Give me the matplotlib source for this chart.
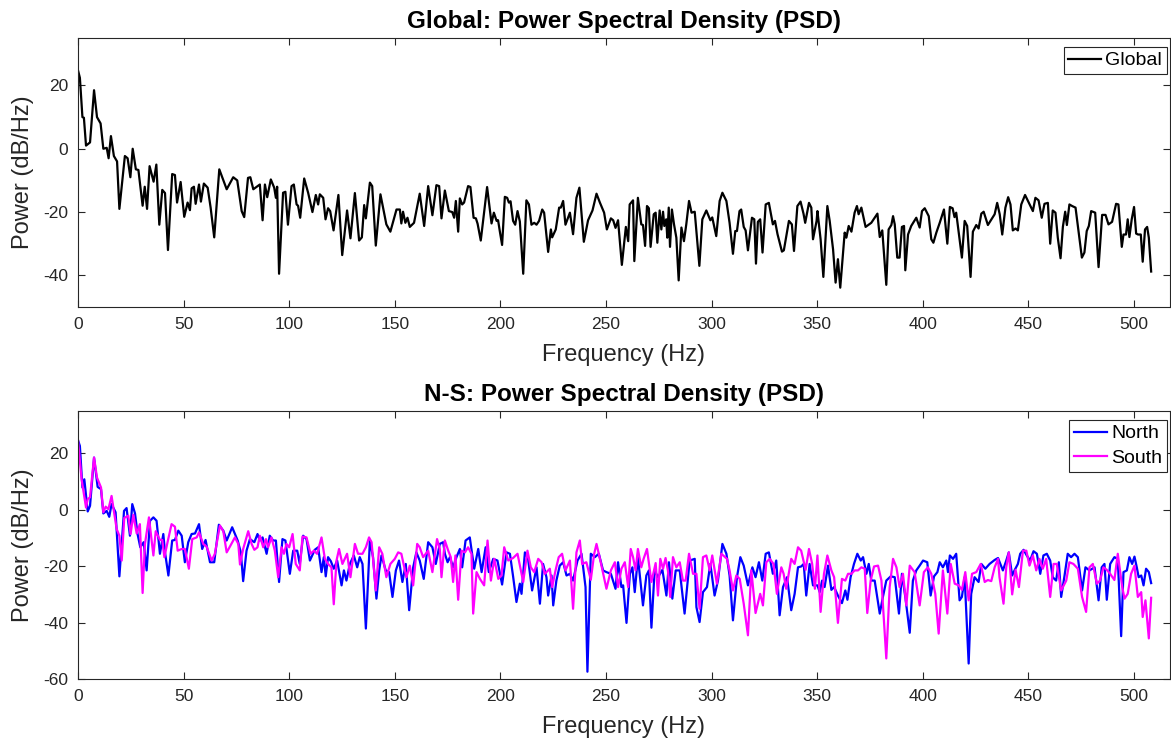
import matplotlib
matplotlib.use("Agg")
import matplotlib.pyplot as plt

plt.rcParams['font.family'] = ['Liberation Sans', 'DejaVu Sans']
plt.rcParams['axes.unicode_minus'] = False

# Global PSD (frequency in Hz, power in dB/Hz)
global_f = [0, 0.9, 2.1, 2.8, 3.8, 5.7, 7.6, 9, 10.7, 12, 13.6, 14.5, 15.6, 17, 18.5, 19.6,
            22.2, 23.5, 24.8, 25.9, 27.4, 28.6, 30.6, 31.6, 32.7, 33.9, 35.8, 37.1, 38.5, 39.9,
            41.2, 42.6, 44.6, 45.9, 46.9, 48.6, 50.3, 51.9, 53, 53.8, 54.9, 55.7, 57.3, 58.2,
            59.6, 61.4, 62.8, 64.5, 66.9, 70.4, 73.5, 75.4, 77.5, 78.7, 80.5, 81.6, 83, 86.1,
            87.4, 88.5, 89.6, 91.3, 92.9, 93.7, 94.3, 95.2, 97.1, 98.2, 99.4, 101.1, 102.2,
            103.5, 104.2, 105.2, 107.1, 109, 111, 112.6, 113.7, 114.5, 116.1, 117.2, 118.4,
            119.4, 121, 123.3, 125.1, 127.4, 129, 131.1, 133.1, 134.4, 135.5, 136.3, 138.2,
            139.3, 141, 143.2, 146, 147.9, 150.8, 152.4, 153.1, 153.9, 155, 156, 157.1, 159.1,
            161.8, 163.9, 165.8, 167.8, 169.7, 171, 172.1, 173.7, 175.6, 177.2, 178.1, 178.9,
            180, 180.8, 181.9, 182.8, 184.7, 185.8, 187.3, 188.4, 189.2, 190.7, 193.7, 195.8,
            196.9, 198.2, 198.9, 199.7, 200.8, 202.1, 203.2, 204, 204.8, 206, 207, 208.1,
            209.2, 210.8, 212.3, 213.5, 214.7, 216, 217.1, 218.3, 219.8, 220.7, 222.6, 223.9,
            224.5, 226.2, 227.8, 228.6, 229.7, 230.8, 232.9, 234.4, 236, 237.4, 239.5, 241.5,
            243.6, 245.5, 247.1, 249.1, 250.4, 252.3, 253.4, 254.5, 255.7, 257.5, 259.4,
            260.5, 261.2, 262.8, 263.4, 265.1, 266.7, 267.5, 268.5, 269.4, 270.3, 271.1,
            272.6, 273.5, 274.3, 275.4, 276.2, 277, 277.6, 278.5, 279, 279.7, 280.3, 281.2,
            282.2, 283.3, 284.4, 285.7, 286.9, 288, 289.3, 290.5, 292, 294.2, 295.6, 297.5,
            299.4, 300.3, 302.2, 303.8, 305.1, 307, 308.5, 310.1, 311.2, 312, 313.2, 314,
            315.2, 316.1, 317.2, 319.1, 320.2, 321, 321.9, 323, 324.1, 325.6, 327.1, 329, 330,
            331.2, 333.3, 334.2, 336.6, 338, 339, 340.6, 342.1, 343.5, 344.3, 346.1, 347.2,
            348, 349.7, 350.1, 351.6, 352.9, 354.8, 355.9, 357.5, 358.7, 359.8, 360.9, 363,
            363.8, 364.9, 366.2, 367.7, 368.8, 369.6, 370.9, 372.9, 375.6, 378.5, 379.6,
            380.8, 382.7, 383.8, 385.1, 385.9, 386.7, 387.9, 389, 390.1, 391.1, 391.7, 393,
            394.5, 396.9, 398.5, 399.6, 400.9, 402.8, 404, 405, 406.4, 408, 410, 411.6, 412.8,
            414.1, 415, 415.8, 417.4, 418.5, 419.8, 421, 422.6, 423.7, 425.3, 426.4, 427.7,
            428.8, 430.8, 434, 435.2, 436.4, 437.6, 439.1, 440.4, 441.5, 442.6, 443.9, 445,
            446.6, 448.4, 450.2, 452.1, 453.3, 454.8, 456.3, 457.6, 459.2, 460.3, 461.5,
            462.8, 463.9, 465.2, 466.3, 467.4, 468.2, 469.4, 470.7, 472.3, 473.4, 475.3,
            476.5, 477.6, 478.6, 479.7, 481.6, 483.2, 484.9, 486.5, 487.9, 489.6, 491.5,
            492.6, 494.2, 495, 496.2, 497, 497.8, 498.9, 500, 501, 501.9, 503.2, 504.1, 505.2,
            506.2, 507, 508.1]
global_db = [24.8, 22.4, 10, 9.8, 1, 2, 18.5, 10, 8, 0, 0.3, -3, 4, -2.3, -4, -19,
             -2.3, -3, -9, 0, -6.5, -6.7, -18, -12, -19, -5.5, -10.4, -5, -24, -13,
             -14, -32, -8, -8.3, -17, -10.5, -21.5, -17, -19.4, -12.5, -12, -17.4, -11.3, -16.7,
             -11, -12.3, -18.6, -28, -6.5, -12.8, -9, -10, -19.7, -21.6, -9.2, -9, -12.8, -11.3,
             -22.6, -11.3, -15.3, -9.7, -12.3, -15.5, -12, -39.5, -13.9, -13.6, -24, -11.8, -11.3,
             -17.6, -18, -21.8, -9.4, -14, -20, -14.6, -17.6, -14.4, -15.5, -22.3, -18.8,
             -19.7, -25.8, -14.6, -33.6, -19.5, -28.3, -14, -29, -28, -17.8, -22, -10.7,
             -11.8, -30.6, -14.4, -23.9, -26.2, -19.2, -19.2, -23.6, -19.9, -23.4, -21.8, -24.7, -23.4,
             -14.2, -24.4, -11.8, -21, -11.5, -11.8, -22, -13.2, -19.7, -20, -21.8, -16.5,
             -26.2, -15.7, -17.6, -17, -11.8, -12.1, -21.8, -22, -23.7, -29, -12.1, -23.6,
             -20.2, -22.8, -22.6, -26, -30.4, -15.2, -15.5, -17, -16.6, -22.8, -24, -19.7,
             -23, -39.5, -16.3, -17.6, -24, -23.4, -24, -22.8, -19.2, -20.2, -32.6, -25.5,
             -28, -25.5, -18.6, -18.6, -16.5, -24, -20.2, -27, -15.5, -12.3, -29.4, -22.6,
             -19.5, -14.2, -17, -20.2, -25.5, -22, -22.6, -25, -22.6, -36.7, -24.7,
             -29.2, -17.6, -16.3, -35.5, -15.5, -23.9, -24.1, -30.7, -18.1, -18.8, -31,
             -20.7, -20.2, -29.7, -19.5, -25.5, -19.9, -24.4, -22.3, -28.1, -18.6, -31, -19.2,
             -23.9, -28.1, -41.6, -24.9, -29.2, -23.9, -16.5, -20.2, -19.9, -37, -22.3, -19.5,
             -22.6, -21.7, -27.6, -16.5, -13.9, -16.5, -23.4, -33.2, -26, -26, -19.7, -19.2,
             -24.7, -25.8, -32.1, -21.8, -22.3, -36.3, -23.1, -22.3, -32.8, -17.6, -17.1, -23.9, -22.8,
             -27, -32.5, -32.1, -22.8, -23.9, -32.3, -18.1, -16.7, -20.5, -23.4, -17.1, -18.6,
             -28.6, -22.8, -19.7, -28.6, -40.5, -18.1, -22.8, -31.8, -42.3, -34.9, -43.9, -26.5,
             -28.1, -24.4, -26.2, -20.2, -18.1, -20.7, -18.6, -24.7, -23.4, -20.5, -27.9,
             -25.8, -43, -25.5, -24.1, -21.3, -23.9, -34.4, -34.4, -24.7, -24.4, -38.4, -27.1,
             -24.4, -21.8, -24.9, -19.7, -18.8, -21.3, -28.6, -29.7, -26.5, -23.4, -19.2, -30, -18.4,
             -18.8, -21.6, -20.2, -28.6, -34.4, -22.8, -24.4, -40.5, -26.2, -24.1, -25.2, -20.5,
             -19.9, -24.1, -20.7, -17.1, -20.7, -27.1, -18.6, -15.3, -17.6, -25.8, -25.2, -25.8,
             -17.6, -14.6, -17.1, -19.7, -15.5, -16.3, -21.8, -17.4, -17.1, -30, -19.5,
             -20.2, -28.1, -34.6, -24.7, -19.9, -24.1, -17.6, -18.1, -18.6, -24.4, -34.4,
             -32.8, -26, -24.4, -19.7, -20.2, -37.4, -20.9, -20.9, -23.9, -23.1, -17.4,
             -17.6, -31, -27.1, -27.1, -22.3, -27.9, -22.3, -18.4, -26.8, -27.1, -27.1, -35.7, -25.5,
             -24.7, -28.1, -38.8]

# N-S PSD: North hemisphere
north_f = [0, 0.9, 2.1, 3, 4.6, 5.7, 7.6, 9.3, 10.9, 12, 13.6, 14.8, 15.9, 17.8, 19.6, 21.8,
           23, 24.6, 25.7, 27, 28.2, 29.5, 31.1, 32.5, 34.1, 35.7, 37.2, 38.8, 40.4, 41.2,
           42.8, 44.6, 45.9, 47.5, 49.1, 50.6, 52.2, 53.8, 55.4, 57.3, 58.8, 60.4, 62.5, 64.5,
           66.7, 68.8, 70.4, 73, 75.6, 77.1, 78.2, 79.8, 81.4, 83.5, 85, 86.1, 87.4, 89.3,
           90.8, 92.4, 93.7, 95.2, 96.8, 98.2, 100.3, 101.9, 103.8, 105, 106.6, 108.2, 109.8,
           112.1, 113.7, 115.3, 116.4, 117.3, 118.4, 119.7, 121.1, 122.7, 124.8, 125.9, 127.1,
           128.7, 130.6, 132.2, 133.4, 134.7, 136.3, 138.2, 139.7, 141.3, 142.6, 143.7, 145.7,
           147.3, 148.9, 150.5, 152, 153.6, 155.2, 156.8, 158.7, 160.2, 161.8, 163.7, 165.8,
           167.8, 169.4, 171.3, 172.9, 173.7, 175, 176.1, 177.6, 179.2, 180.8, 181.9, 183.5,
           185.5, 187.6, 189.5, 191.1, 193, 194.5, 196.6, 198.6, 200.8, 202.9, 204.5, 206,
           207.6, 209.2, 210, 211.6, 213.1, 215, 217.1, 218.7, 220.2, 221.8, 222.6, 224.2,
           225, 226.5, 228.1, 229.7, 231.3, 232.9, 234.4, 236.5, 238.4, 240.3, 241.2, 242.8,
           244.7, 246.6, 248.6, 250.2, 252.3, 254.5, 255.7, 257.3, 258.1, 259.7, 261.3,
           262.5, 263.6, 265.1, 267.5, 269.1, 270.3, 271.5, 273, 274.6, 276.7, 278.6, 279.8,
           281.4, 283, 284.9, 287.2, 289.6, 292, 292.8, 294.3, 295.9, 297.8, 299.4, 301.4,
           303, 305.1, 307, 308.5, 310.1, 312, 313.6, 315.2, 317.2, 319.3, 320.8, 322.4, 324,
           325.6, 327.1, 329, 330.6, 332.2, 333.8, 335.7, 337.7, 339.3, 340.9, 342.4, 343.6,
           344.8, 346.4, 348, 350.1, 351.2, 352.3, 353.5, 355.1, 356.7, 358, 359.8, 361.7,
           363.3, 364.3, 365.8, 367.4, 369, 370.6, 371.7, 373.3, 374.4, 375.6, 377.2, 379.6,
           381.1, 382.7, 384.8, 386.7, 388.7, 390.1, 391.7, 393.8, 395.3, 396.9, 398.5,
           400.1, 402.1, 403.7, 405.3, 406.9, 408, 409.5, 411.1, 411.9, 412.8, 414.3, 415.8,
           417.4, 418.5, 419.8, 421.7, 422.9, 424.5, 426.4, 427.7, 429.6, 431.6, 434, 435.6,
           437.9, 439.5, 440.7, 442.3, 443.4, 445, 446.1, 447.7, 449.2, 450.8, 452.4, 454,
           455.6, 457.1, 458.7, 460.3, 461.5, 463.1, 464.4, 465.5, 467.1, 468.6, 470.2, 471.8,
           473.4, 475.4, 477, 478.9, 481.3, 483.2, 484.7, 486, 487.1, 488.7, 490.7, 492.3,
           493.9, 495, 496.6, 497.8, 499.1, 500.2, 501.3, 502.2, 503.4, 504.5, 505.7, 507,
           508.1]
north_db = [24.7, 22.6, 7.9, 10.8, -0.6, 1.4, 18.5, 8.1, 7.3, -1.3, -0.4, -2.5, 2, -0.9, -23.6, -0.4,
            0.6, -9.2, 2, -1.3, -8.6, -13.3, -11.5, -21.5, -3.9, -2.7, -3.9, -15.6, -8.6, -15.1,
            -23.3, -10.9, -10.7, -7.4, -9.2, -18.6, -11.5, -8.6, -8.4, -5.1, -13.9, -10.7, -18.6, -18.6,
            -5.3, -7.4, -10.9, -6.2, -10.9, -15.1, -25.3, -14.5, -10.4, -11.5, -8.6, -10.9, -9.8, -15.6,
            -9.2, -10.9, -10.9, -25.6, -10.4, -10.9, -22.7, -14.5, -14.5, -19.2, -9.2, -10.4, -18,
            -14.2, -13.3, -22.1, -16.8, -23.6, -16.8, -18.2, -20.9, -18, -26.8, -21.5, -25.1,
            -19.2, -16.2, -20.4, -16.8, -19.2, -42.1, -10.9, -16.8, -31.5, -21.5, -16.2, -21.5,
            -22.1, -30.9, -21.5, -18, -25.6, -19.2, -35.6, -20.4, -15.1, -18, -24.5, -11.5,
            -13.3, -19.2, -12.1, -11.5, -15.6, -18.6, -16.8, -20.4, -16.8, -13.9, -20.4, -10.9,
            -9.8, -20.9, -13.9, -22.1, -13.3, -22.1, -17.4, -18, -26.5, -15.1, -15.6, -23.6,
            -32.7, -26.2, -29.8, -15.1, -17.4, -28.6, -20.4, -33.3, -19.2, -23.9, -30.4, -23.3,
            -33.9, -25.1, -19.8, -18.6, -23.3, -22.7, -25.1, -18, -15.6, -27.4, -57.4, -15.6,
            -16.8, -15.6, -21.5, -22.1, -22.7, -28, -18.6, -27.4, -26.8, -40.1, -22.7,
            -20.4, -29.2, -16.8, -33.9, -23.3, -21.5, -41.8, -21.5, -23.9, -21.3, -30.4, -18.6,
            -31.5, -21.5, -21.5, -36.8, -18, -17.4, -34.5, -39.8, -29.2, -27.4, -19.2, -30.4,
            -25.1, -12.1, -15.6, -23.3, -39.2, -23.9, -16.8, -19.8, -26.8, -20.4, -23.9, -18.6, -25.1,
            -15.6, -15.1, -22.7, -18, -37.4, -27.4, -23.9, -35.6, -29.8, -20.4, -20.1, -19.2,
            -30.4, -19.2, -26.8, -26.8, -29.2, -25.1, -27.4, -19.8, -28.4, -27.4, -30.4, -33.1,
            -28.6, -31.9, -23.9, -19.2, -15.6, -18, -16.8, -22.7, -19.2, -25.1, -25.1, -36.8,
            -30.9, -25.1, -23.6, -23.9, -36.8, -22.7, -30.9, -43.6, -25.1, -21.5, -19.8,
            -18, -18.6, -30.4, -23.6, -22.1, -18.6, -20.4, -18, -22.1, -16.2, -17.4, -15.6,
            -32.1, -30.9, -23.9, -54.5, -29.8, -23.9, -25.6, -19.2, -20.9, -19.2, -17.8, -17.1,
            -21.5, -18, -15.1, -23.3, -21.5, -19.2, -15.6, -14.2, -16.2, -18, -14.7, -15.6,
            -22.7, -16.2, -15.6, -18, -23.9, -25.1, -18.6, -30.9, -23.3, -15.6, -16.8, -15.6,
            -16.8, -28.6, -20.4, -21.5, -20.4, -32.1, -20.4, -19.2, -31.9, -19.2, -16.8, -17.4,
            -44.8, -22.1, -21.5, -16.8, -19.2, -16.6, -20.4, -23.9, -23.3, -26.8, -20.9, -22.1,
            -26]

# N-S PSD: South hemisphere
south_f = [0, 1.7, 3.8, 4.6, 5.7, 7.6, 9, 10.9, 12, 13.1, 14.4, 15.9, 17.2, 18.3, 19.6, 20.7,
           21.9, 23.8, 24.9, 26.2, 27.8, 29.3, 30.6, 31.7, 33.6, 35.7, 36.8, 38.8, 39.9, 40.9,
           42.4, 44.3, 45.9, 47.2, 49.1, 50.6, 52.5, 54.1, 56.2, 57.3, 59.3, 60.9, 63.3, 64.8,
           67.2, 68.8, 70.4, 71.9, 74.3, 75.9, 76.7, 78.2, 80.6, 82.2, 83.5, 85, 86.1, 87.7,
           89, 90, 91.6, 93.2, 94.8, 96.4, 97.5, 98.7, 100, 101.6, 103.1, 105, 106.3, 108.2,
           110.1, 111.7, 113.2, 115.3, 116.9, 118.4, 120, 121.1, 122.4, 123.6, 125.2, 127.4,
           129, 131.1, 132.6, 134.7, 136.3, 137.8, 139, 141, 142.6, 144.1, 146, 147.9, 150,
           151.6, 153.1, 155.5, 157.1, 158.7, 160.6, 161.8, 163.4, 165.8, 167.8, 170, 171.3,
           172.1, 173.7, 175.3, 176.5, 177.6, 178.7, 180, 181.6, 183.2, 184.7, 186.3, 187.1,
           188.7, 190.3, 192.3, 193.9, 195.5, 197.1, 199, 200.5, 201.8, 203.7, 206, 208.1,
           210.8, 212.8, 214.4, 216, 217.9, 219.5, 221, 223.4, 224.5, 226.1, 227.6, 229.2,
           230.8, 232.9, 234.4, 236, 237.6, 238.7, 240.7, 242.8, 244.4, 245.5, 247.5, 250.2,
           252.3, 254.2, 255.7, 257.3, 258.9, 260.5, 261.7, 262.8, 264, 265.1, 266.7, 267.8,
           269.4, 271.5, 273.5, 274.6, 275.7, 277, 278.2, 279.3, 280.4, 281.7, 283.3, 284.9,
           286.4, 287.7, 289.3, 291.2, 292.8, 294.3, 295.9, 297.5, 299.1, 300.3, 302.5, 304.6,
           307.3, 308.5, 310.1, 311.7, 313.3, 315.2, 317.2, 318.8, 320.8, 323, 324.3, 325.9,
           327.5, 329.3, 330.9, 333, 334.1, 335.3, 337.7, 339.3, 340.9, 342.4, 344.5, 346.1,
           347.6, 348.9, 350.1, 351.6, 353.2, 354.8, 356.7, 358, 359.8, 361.7, 363.3, 364.6,
           366.2, 367.7, 369.3, 370.9, 372.5, 373.7, 375.3, 376.9, 378.8, 380.4, 382.7, 384.3,
           385.9, 387.5, 389, 390.6, 392.2, 393.8, 396.1, 398.5, 400.5, 402.4, 404, 405.9,
           407.5, 409.5, 411.6, 413.2, 415.1, 417, 418.5, 420.1, 421.7, 423.3, 425.3, 427.4,
           429.3, 430.8, 432.4, 434, 435.6, 436.3, 438.2, 439.5, 440.7, 442.3, 443.9, 445.5,
           447.4, 449, 450.5, 452.1, 453.7, 455.2, 456.8, 458.4, 460.3, 461.9, 463.4, 465.5,
           467.9, 469.4, 471.3, 473.4, 475.4, 477.3, 478.9, 480.5, 482.4, 483.9, 485.5, 487.1,
           488.7, 490.7, 492.3, 494.4, 495.5, 497, 498.6, 500.2, 501.8, 503.4, 504.1, 505.4,
           507, 508.1]
south_db = [24.7, 10.8, 0.8, 3.8, 4.4, 18.5, 11.4, 7.9, -0.9, 1.1, 0.2, 4.9, -1.5, -6.8, -9.2, -18,
            -2.9, -2.1, -8.6, -1.8, -8.4, -5.1, -29.5, -12.1, -2.7, -16.2, -7.6, -10.7, -10.7, -16.8,
            -11.5, -5.1, -6, -14.5, -13.9, -13.9, -20.9, -10.4, -9.8, -8, -12.1, -13.1, -18, -15.6,
            -5.6, -7.6, -15.1, -13.1, -9.8, -12.1, -19.4, -13.9, -7.6, -12.1, -14.2, -13.3, -9.2, -13.3,
            -10.4, -13.3, -9.8, -14.5, -23.9, -13.3, -15.6, -12.1, -13.3, -8.6, -19.2, -21.5, -9.5, -9.8,
            -15.6, -14.5, -15.6, -9.8, -17.4, -19.2, -20.4, -33.5, -18, -13.9, -19.2, -15.6,
            -23.9, -12.1, -15.6, -15.6, -13.3, -9.8, -11.5, -28.6, -13.3, -15.6, -23.9, -19.2, -17.4,
            -15.1, -15.6, -23.9, -19.8, -26.8, -12.1, -13.3, -16.8, -14.5, -22.1, -10.4, -13.9,
            -23.9, -10.9, -14.5, -16.8, -25.6, -16.2, -31.9, -14.5, -15.1, -13.3, -15.6, -36.8,
            -22.1, -24.5, -26.8, -10.9, -25.1, -17.4, -24.5, -23.3, -13.3, -18, -17.1, -15.6,
            -25.6, -14.5, -20.4, -22.1, -17.4, -18.6, -22.7, -20.9, -27.4, -21.5, -16.8, -15.6,
            -21.5, -18, -35.1, -15.1, -10.9, -19.2, -18.6, -24.8, -15.6, -12.1, -18.6, -28,
            -21.5, -18.6, -27.4, -20.9, -18.6, -27.4, -13.9, -16.8, -21.5, -13.9, -20.4, -17.4,
            -13.9, -25.6, -18.9, -30.4, -17.4, -20.9, -17.1, -21.5, -30.9, -16.8, -20.4, -18.6,
            -25.1, -25.1, -15.6, -22.7, -22.7, -35.1, -16.8, -16.2, -21.5, -16.2, -26.2, -15.6,
            -17.4, -21.5, -28.6, -23.3, -24.5, -33.3, -44.5, -21.5, -36.6, -29.8, -33.9, -18.6,
            -17.4, -19.2, -29.8, -20.4, -22.7, -28, -17.4, -19.2, -13.3, -14.5, -21.3, -13.9,
            -19.2, -28, -16.2, -36.2, -22.7, -16.2, -21.5, -23.9, -40.1, -24.5, -25.1, -22.7,
            -22.7, -21.5, -21.5, -20.4, -20.9, -36.6, -25.1, -20.1, -19.8, -25.1, -52.7, -27.4,
            -17.4, -20.4, -27.4, -22.7, -33.9, -19.8, -22.1, -33.9, -22.1, -20.4, -22.7, -29.8,
            -43.9, -21.5, -36.8, -19.2, -26.2, -26.8, -28.4, -22.1, -32.1, -22.7, -22.1, -19.2,
            -25.6, -24.9, -25.3, -20.4, -17.4, -23.9, -33.3, -20.4, -15.1, -30, -21.3, -27.4,
            -14.5, -14.5, -19.8, -16.2, -21.5, -17.4, -20.9, -17.4, -30.9, -19.2, -19.2, -28.6,
            -25.1, -18.6, -19.2, -20.9, -30.9, -36.2, -20.4, -19.2, -26.2, -25.1, -20.4, -21.3,
            -22.7, -24.9, -15.6, -27.4, -31.5, -29.8, -22.7, -19.8, -30.9, -29.2, -38, -32.1,
            -45.6, -31.2]

x_ticks = [0, 50, 100, 150, 200, 250, 300, 350, 400, 450, 500]
edge = '#262626'


def style_axes(ax, ylim, yticks, title):
    ax.set_xlim(0, 517)
    ax.set_ylim(*ylim)
    ax.set_xticks(x_ticks)
    ax.set_yticks(yticks)
    ax.tick_params(direction='in', length=5, width=0.8, top=True, right=True,
                   labelsize=12.5, colors=edge, labelcolor=edge, pad=7)
    for s in ax.spines.values():
        s.set_color(edge)
        s.set_linewidth(0.8)
    ax.set_xlabel('Frequency (Hz)', fontsize=17, color=edge, labelpad=9)
    ax.set_ylabel('Power (dB/Hz)', fontsize=17, color=edge, labelpad=7)
    ax.set_title(title, fontsize=17.5, fontweight='bold', color='black', pad=7)
    # legend sits tight in the upper right corner, like MATLAB's
    leg = ax.legend(loc='upper right', bbox_to_anchor=(1 - 3 / 1092, 1 - 9 / 269),
                    fontsize=14, fancybox=False, framealpha=1, edgecolor=edge,
                    borderpad=0.25, handlelength=1.7, handletextpad=0.2,
                    labelspacing=0.35, borderaxespad=0)
    leg.get_frame().set_linewidth(0.8)


fig = plt.figure(figsize=(11.71, 7.48), dpi=100)
ax1 = fig.add_axes([0.0666, 0.5896, 0.9325, 0.3596])
ax2 = fig.add_axes([0.0666, 0.0922, 0.9325, 0.3583])

ax1.plot(global_f, global_db, color='black', lw=1.6, label='Global')
style_axes(ax1, (-50, 35), [-40, -20, 0, 20], 'Global: Power Spectral Density (PSD)')

ax2.plot(north_f, north_db, color=(0, 0, 1), lw=1.6, label='North')
ax2.plot(south_f, south_db, color=(1, 0, 1), lw=1.6, label='South')
style_axes(ax2, (-60, 35), [-60, -40, -20, 0, 20], 'N-S: Power Spectral Density (PSD)')

fig.savefig('out.png', dpi=100)
